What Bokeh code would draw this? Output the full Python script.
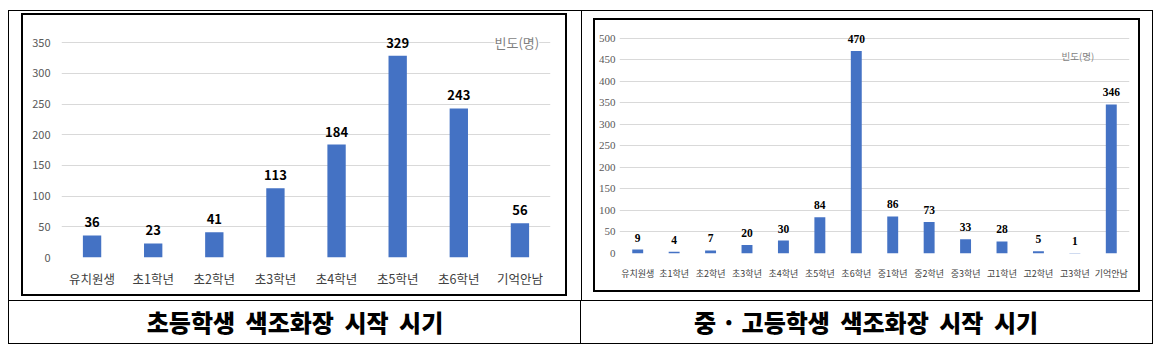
from bokeh.plotting import figure
from bokeh.models import FixedTicker, Label, Div, ColumnDataSource
from bokeh.layouts import row, column
from bokeh.core.properties import value
from bokeh.embed import file_html
from bokeh.resources import INLINE

# ---- data ----
elem_categories = ["유치원생", "초1학년", "초2학년", "초3학년", "초4학년", "초5학년", "초6학년", "기억안남"]
elem_values = [36, 23, 41, 113, 184, 329, 243, 56]
elem_ticks = [0, 50, 100, 150, 200, 250, 300, 350]

sec_categories = ["유치원생", "초1학년", "초2학년", "초3학년", "초4학년", "초5학년", "초6학년",
                  "중1학년", "중2학년", "중3학년", "고1학년", "고2학년", "고3학년", "기억안남"]
sec_values = [9, 4, 7, 20, 30, 84, 470, 86, 73, 33, 28, 5, 1, 346]
sec_ticks = [0, 50, 100, 150, 200, 250, 300, 350, 400, 450, 500]

unit_label = "빈도(명)"
elem_caption = "초등학생 색조화장 시작 시기"
sec_caption_head = "중 · 고등학생"
sec_caption_tail = "색조화장 시작 시기"

KR = "Noto Sans CJK KR"
BAR = "#4472C4"


def make_chart(cats, vals, ticks, y_end, width, height, borders, tick_font, tick_size,
               tick_standoff, cat_size, cat_standoff, lab_font, lab_size, lab_offset,
               unit_x, unit_y, unit_size, unit_bg):
    p = figure(x_range=cats, y_range=(0, y_end), width=width, height=height,
               output_backend="svg", toolbar_location=None,
               min_border_left=borders[0], min_border_right=borders[1],
               min_border_top=borders[2], min_border_bottom=borders[3])
    src = ColumnDataSource(dict(x=cats, top=vals, lab=[str(v) for v in vals]))
    p.vbar(x="x", top="top", width=0.3, source=src, fill_color=BAR, line_color=None)
    p.text(x="x", y="top", text="lab", source=src, text_align="center",
           text_baseline="alphabetic", y_offset=lab_offset,
           text_font=value(lab_font), text_font_style="bold",
           text_font_size=value(f"{lab_size}px"), text_color="#000000")
    p.outline_line_color = None
    p.background_fill_color = "white"
    p.border_fill_color = "white"
    p.xgrid.grid_line_color = None
    p.ygrid.ticker = FixedTicker(ticks=ticks)
    p.ygrid.grid_line_color = "#d9d9d9"
    p.ygrid.grid_line_width = 1

    ya = p.yaxis[0]
    ya.ticker = FixedTicker(ticks=ticks)
    ya.axis_line_color = None
    ya.major_tick_line_color = None
    ya.minor_tick_line_color = None
    ya.major_tick_out = 0
    ya.major_tick_in = 0
    ya.major_label_standoff = tick_standoff
    ya.major_label_text_font = tick_font
    ya.major_label_text_font_size = f"{tick_size}px"
    ya.major_label_text_color = "#595959"

    xa = p.xaxis[0]
    xa.axis_line_color = None
    xa.major_tick_line_color = None
    xa.minor_tick_line_color = None
    xa.major_tick_out = 0
    xa.major_tick_in = 0
    xa.major_label_standoff = cat_standoff
    xa.major_label_text_font = KR
    xa.major_label_text_font_size = f"{cat_size}px"
    xa.major_label_text_color = "#404040"

    p.add_layout(Label(x=unit_x, y=unit_y, text=unit_label, text_align="center",
                       text_baseline="middle", text_font=KR,
                       text_font_size=f"{unit_size}px", text_color="#7f7f7f",
                       background_fill_color=unit_bg))
    return p


left_fig = make_chart(elem_categories, elem_values, elem_ticks, 370, 546, 283,
                      (38, 19, 15, 41), KR, 11, 11, 12.5, 11, KR, 13, -13,
                      7.45, 350, 13, "white")
right_fig = make_chart(sec_categories, sec_values, sec_ticks, 520, 547, 274,
                       (21, 13, 9, 41), "Liberation Sans Narrow", 11, 4, 9, 13,
                       "Liberation Sans Narrow", 11.5, -12,
                       12.58, 459, 9.5, None)

left_fig.styles = {"border": "2px solid black"}
right_fig.styles = {"border": "2px solid black"}
left_fig.margin = (2, 14, 4, 12)
right_fig.margin = (7, 12, 8, 11)

left_cell = column(left_fig, styles={"border-right": "1px solid black",
                                      "border-bottom": "1px solid black"})
right_cell = column(right_fig, styles={"border-bottom": "1px solid black"})


def caption(inner, w, border):
    html = (f'<div style="width:{w}px;height:42px;line-height:42px;text-align:center;'
            f'font-family:\'{KR}\';font-weight:900;font-size:24px;word-spacing:5px;'
            f'color:#000;white-space:nowrap;">{inner}</div>')
    st = {"margin": "0"}
    if border:
        st["border-right"] = "1px solid black"
    return Div(text=html, width=w, height=42, styles=st, margin=(0, 0, 0, 0))


left_cap = caption(elem_caption, 572, True)
right_cap = caption(f'<span style="word-spacing:0px">{sec_caption_head}</span> {sec_caption_tail}',
                    570, False)

cap_row = row(left_cap, right_cap)
table = column(row(left_cell, right_cell), cap_row,
               styles={"border": "1px solid black"})
table.margin = (10, 0, 0, 8)

with open("out.html", "w") as f:
    f.write(file_html(table, INLINE))
